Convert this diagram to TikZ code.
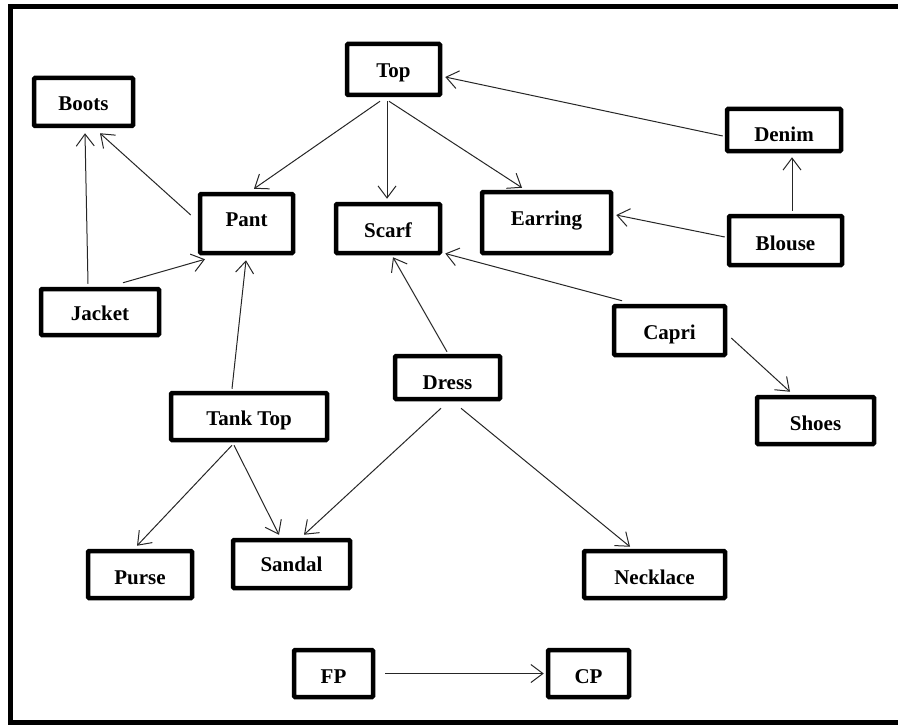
\documentclass[tikz,border=0pt]{standalone}
\usepackage{fontspec}
\setmainfont{Liberation Serif}
\usetikzlibrary{arrows.meta}
\tikzset{
  box/.style={draw, line width=4.5pt, rounded corners=1pt, font=\fontsize{21}{25}\selectfont\bfseries,
    text height=17pt, text depth=0pt, inner sep=0pt, fill=white},
  arr/.style={draw=black!85, line width=1pt, -{Straight Barb[length=12pt,width=18pt,line width=1pt]}},
  frame/.style={line width=5pt, line join=miter}
}
\begin{document}
\begin{tikzpicture}[x=1pt,y=-1pt]
\useasboundingbox (0,0) rectangle (898,725);
\draw[frame] (898,6.5) -- (10.5,6.5) -- (10.5,722) -- (898,722);

\node[box, minimum width=93pt, minimum height=51pt] (top) at (393.5,69.5) {Top};
\node[box, minimum width=99pt, minimum height=48pt] (boots) at (83.5,102) {Boots};
\node[box, minimum width=93pt, minimum height=59pt] (pant) at (246.5,223.5) {\raisebox{6pt}{Pant}};
\node[box, minimum width=104pt, minimum height=49pt] (scarf) at (388,228.5) {Scarf};
\node[box, minimum width=118pt, minimum height=46pt] (jacket) at (100,312) {Jacket};
\node[box, minimum width=114pt, minimum height=42pt] (denim) at (784,130) {\raisebox{-3pt}{Denim}};
\node[box, minimum width=129pt, minimum height=61pt] (earring) at (546.5,222.5) {\raisebox{5.5pt}{Earring}};
\node[box, minimum width=113pt, minimum height=49pt] (blouse) at (785.5,240.5) {\raisebox{-1.5pt}{Blouse}};
\node[box, minimum width=111pt, minimum height=49pt] (capri) at (669.5,330.5) {Capri};
\node[box, minimum width=105pt, minimum height=43pt] (dress) at (447.5,377.5) {\raisebox{-3.5pt}{Dress}};
\node[box, minimum width=156pt, minimum height=47pt] (tanktop) at (249,416.5) {Tank Top};
\node[box, minimum width=117pt, minimum height=47pt] (shoes) at (815.5,420.5) {\raisebox{-1.5pt}{Shoes}};
\node[box, minimum width=104pt, minimum height=47pt] (purse) at (140,574.5) {\raisebox{-1.5pt}{Purse}};
\node[box, minimum width=117pt, minimum height=48pt] (sandal) at (291.5,564) {\raisebox{1pt}{Sandal}};
\node[box, minimum width=141pt, minimum height=47pt] (necklace) at (654.5,574.5) {\raisebox{-1.5pt}{Necklace}};
\node[box, minimum width=79pt, minimum height=47pt] (fp) at (333.5,673.5) {\raisebox{-1.5pt}{FP}};
\node[box, minimum width=81pt, minimum height=47pt] (cp) at (588.5,673.5) {\raisebox{-1.5pt}{CP}};

\draw[arr] ([xshift=-13.5pt,yshift=-4pt]top.south) -- ([xshift=7.5pt,yshift=3pt]pant.north);
\draw[arr] ([xshift=-6.5pt,yshift=-4pt]top.south) -- ([xshift=-1pt,yshift=3pt]scarf.north);
\draw[arr] ([xshift=-4.5pt,yshift=-4pt]top.south) -- ([xshift=-24.5pt,yshift=2pt]earring.north);
\draw[arr] ([xshift=-2pt,yshift=-6pt]denim.west) -- ([xshift=3pt,yshift=-7.5pt]top.east);
\draw[arr] ([xshift=6.5pt,yshift=3pt]blouse.north) -- ([xshift=8pt,yshift=-4pt]denim.south);
\draw[arr] ([xshift=-2pt,yshift=3.5pt]blouse.west) -- ([xshift=3pt,yshift=7.5pt]earring.east);
\draw[arr] ([xshift=-47.5pt,yshift=3pt]capri.north) -- ([xshift=3pt,yshift=-25pt]scarf.east);
\draw[arr] ([xshift=4pt,yshift=-7.5pt]capri.east) -- ([xshift=-25.5pt,yshift=3pt]shoes.north);
\draw[arr] ([xshift=-7pt,yshift=8.5pt]pant.west) -- ([xshift=16.5pt,yshift=-5pt]boots.south);
\draw[arr] ([xshift=-12pt,yshift=3pt]jacket.north) -- ([xshift=1.5pt,yshift=-5pt]boots.south);
\draw[arr] ([xshift=23pt,yshift=4pt]jacket.north) -- ([xshift=-41.5pt,yshift=-4pt]pant.south);
\draw[arr] ([xshift=-17pt,yshift=2pt]tanktop.north) -- ([xshift=-0.5pt,yshift=-5pt]pant.south);
\draw[arr] ([xshift=-0.5pt,yshift=2pt]dress.north) -- ([xshift=5pt,yshift=-2pt]scarf.south);
\draw[arr] ([xshift=-17pt,yshift=-3pt]tanktop.south) -- ([xshift=-3pt,yshift=3pt]purse.north);
\draw[arr] ([xshift=-15pt,yshift=-3pt]tanktop.south) -- ([xshift=-12.5pt,yshift=3pt]sandal.north);
\draw[arr] ([xshift=-6.5pt,yshift=-7pt]dress.south) -- ([xshift=12.5pt,yshift=3pt]sandal.north);
\draw[arr] ([xshift=13.5pt,yshift=-7pt]dress.south) -- ([xshift=-24.5pt,yshift=2pt]necklace.north);
\draw[arr] ([xshift=10pt]fp.east) -- ([xshift=-2pt]cp.west);
\end{tikzpicture}
\end{document}
